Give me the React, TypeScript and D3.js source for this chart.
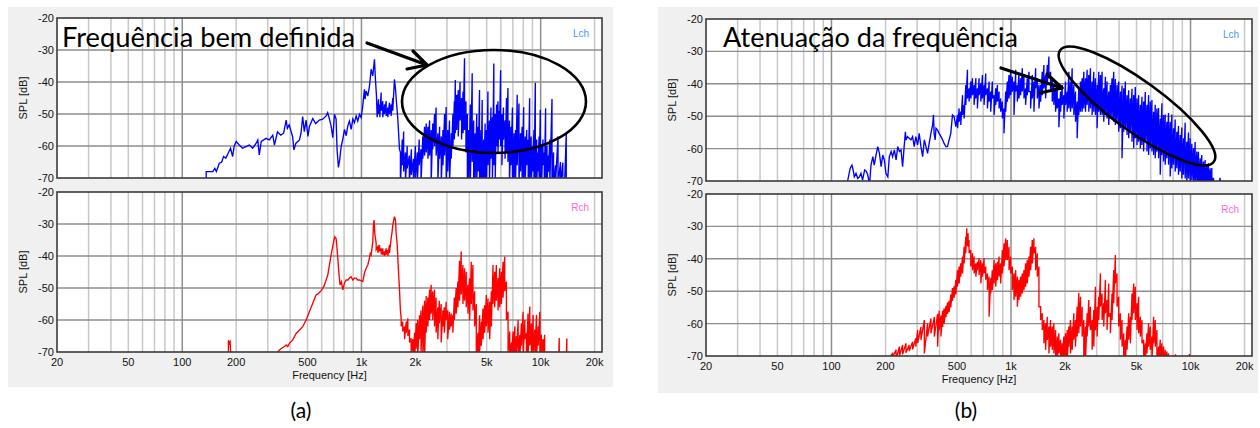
import React from "react";
import * as d3 from "d3";

// Each sample: [frequency Hz, level dB] or [frequency Hz, peak dB, floor dB]
// (peak/floor pairs are drawn as a vertical stroke, like an analyser's min/max trace)
type Sample = number[];

const lchA: Sample[] = [
  [136, -72], [136, -68], [148, -68], [152, -67], [155, -68], [161, -65.4], [166, -65], [170, -63.3], [175, -63.8],
  [182, -61.8], [186, -60.7], [191, -63.3], [195, -60], [200, -58.6], [208, -59.7], [217, -60.7], [227, -60.2],
  [237, -59.7], [247, -60.7], [258, -59.2], [264, -58.1], [269, -62.8], [276, -58.6], [294, -57.6], [306, -58.1],
  [320, -56.6], [327, -59.7], [340, -55.6], [355, -56.6], [368, -56], [380, -51.9], [386, -54.5], [395, -53.4],
  [413, -57.1], [420, -61.2], [430, -59.2], [451, -58.1], [460, -56], [470, -50.8], [480, -55.5], [491, -51.9],
  [503, -57], [512, -54], [535, -51.4], [555, -53], [582, -51.9], [608, -51.6], [635, -50.6], [648, -49.6],
  [663, -51.6], [677, -53.7], [692, -57.4], [707, -50.1], [722, -51.6], [731, -61], [744, -66.7], [757, -64.1],
  [771, -60], [787, -57.9], [804, -54.8], [822, -56.8], [839, -53.7], [857, -52.2], [876, -54.8], [895, -51.6],
  [914, -52.7], [934, -50.6], [954, -52.2], [975, -50.1], [996, -51.1], [1017, -47.5], [1039, -42.3], [1048, -45.4],
  [1062, -42.8], [1085, -44.4], [1109, -41.2], [1133, -36], [1157, -38.1], [1182, -32.9], [1197, -39.2], [1213, -44.4],
  [1223, -50.6, -51], [1245, -45.4, -50], [1266, -47, -51], [1288, -43.3, -49], [1315, -46, -51], [1345, -47, -50],
  [1374, -46, -50.6], [1403, -48, -51], [1433, -46.5, -50], [1464, -47, -50.6], [1496, -45, -49], [1528, -39.2],
  [1549, -42.3], [1569, -46.4], [1596, -51.6], [1630, -61],
  [1650, -62, -72], [1690, -58, -66], [1720, -55.5, -68], [1760, -62, -72], [1800, -60, -67], [1850, -63, -72],
  [1900, -61, -69], [1950, -64, -72], [2000, -60, -70], [2050, -62, -72], [2100, -58, -66], [2150, -61, -72],
  [2200, -57, -64], [2250, -54, -63], [2300, -53, -62], [2350, -54, -64], [2400, -52, -63], [2450, -55, -72],
  [2500, -53, -61], [2560, -50, -60], [2610, -48, -63], [2670, -56, -72], [2730, -54, -64], [2790, -57, -72],
  [2850, -55, -66], [2910, -50, -63], [2970, -47.8, -72], [3030, -55, -68], [3100, -52, -72], [3170, -56, -64],
  [3240, -50, -60], [3300, -46, -58], [3340, -39.4, -56], [3400, -44, -55], [3470, -42.5, -57], [3550, -40, -52],
  [3620, -45, -58], [3690, -43, -56], [3760, -32.6, -55], [3830, -46, -62], [3900, -50, -72], [3970, -55, -70],
  [4050, -47, -72], [4150, -37.3, -65], [4230, -52, -72], [4310, -56, -70], [4400, -50, -72], [4480, -54, -68],
  [4560, -42.5, -72], [4650, -55, -70], [4720, -45.6, -72], [4810, -58, -72], [4900, -53, -70], [4990, -55, -72],
  [5080, -43, -66], [5180, -52, -72], [5280, -48, -64], [5380, -51, -72], [5480, -34.2, -66], [5580, -50, -70],
  [5680, -47, -60], [5780, -46, -62], [5880, -49, -58], [5980, -36.3, -60], [6080, -50, -66], [6200, -48, -58],
  [6330, -52, -64], [6450, -45, -62], [6570, -41.9, -65], [6700, -52, -72], [6830, -54, -66], [6960, -48, -72],
  [7100, -56, -70], [7240, -55, -72], [7400, -44, -66], [7570, -46.7, -72], [7720, -56, -68], [7880, -54, -72],
  [8040, -47.9, -70], [8200, -57, -72], [8360, -55, -66], [8520, -58, -72], [8680, -45.1, -70], [8850, -57, -72],
  [9020, -60, -68], [9180, -55, -72], [9340, -40.2, -70], [9500, -58, -72], [9650, -62, -68], [9800, -57, -72],
  [9960, -48.7, -70], [10130, -60, -72], [10300, -58, -66], [10480, -62, -72], [10660, -48.2, -70], [10850, -60, -72],
  [11050, -63, -68], [11250, -58, -72], [11570, -45.3, -72], [11800, -62, -72], [12100, -66, -72], [12500, -57, -72],
  [12900, -65, -72], [13300, -65.2, -72], [13600, -72], [13900, -56, -72], [14000, -72],
];

const rchA: Sample[] = [
  [181, -72], [181, -66.3], [183, -67.3], [185, -66.8], [187, -72],
  [341, -72], [341, -69.9], [356, -68.9], [372, -68.3], [380, -67.8], [388, -68.3], [396, -67.3], [413, -66.3],
  [432, -64.2], [451, -63.1], [470, -62.1], [491, -60], [512, -57.4], [535, -54.8], [558, -52.2], [570, -51.9],
  [583, -51.4], [595, -50.9], [608, -50.1], [621, -49.1], [635, -47.5], [649, -45.9], [663, -42.8], [677, -39.7],
  [691, -37.1], [700, -35.5], [710, -34], [722, -34.5], [728, -36.6], [738, -40.7], [747, -44.9], [760, -49.1],
  [773, -48], [787, -50.6], [804, -48.5], [821, -47.5], [840, -47.5], [857, -46.9], [876, -46.5], [895, -47.5],
  [915, -46.9], [934, -46.9], [955, -47.5], [975, -47.5], [1017, -48], [1039, -45.4], [1062, -43.8], [1085, -42.8],
  [1108, -40.7], [1120, -39.2], [1133, -39.7], [1157, -35.5], [1167, -30.3], [1177, -28.75], [1187, -32.9],
  [1208, -36, -38], [1234, -37.1, -39], [1261, -36.6, -38.6], [1288, -37.6, -39.5], [1316, -37.6, -39.7],
  [1345, -38.6, -40], [1374, -37.6, -39.5], [1403, -38.1, -40], [1433, -36.6, -39], [1465, -34.5], [1483, -32.4],
  [1496, -30.3], [1528, -27.7], [1549, -28.75], [1562, -32.9], [1582, -36], [1610, -44.9], [1631, -50.6], [1650, -57],
  [1666, -59.5, -62], [1700, -60.5, -63.6], [1740, -62, -66], [1778, -60.5, -64], [1816, -59.5, -65], [1855, -63, -67],
  [1894, -65.7, -70], [1936, -66, -72], [1980, -64, -72], [2020, -61, -69], [2060, -60, -72], [2109, -58.5, -66],
  [2150, -57, -70], [2201, -55.5, -72], [2250, -54, -72], [2298, -52.5, -64], [2348, -53, -62], [2400, -50.5, -60],
  [2450, -49, -58], [2500, -51, -60], [2557, -50.5, -62], [2610, -53, -64], [2668, -56, -66], [2720, -54, -61],
  [2785, -55, -67], [2850, -57, -62], [2900, -56, -64], [2970, -54.3, -60], [3030, -57, -66], [3101, -57.4, -63],
  [3170, -58, -62], [3237, -58.5, -64], [3300, -53, -60], [3378, -50, -58], [3452, -48, -56], [3527, -41.5, -54],
  [3604, -38.6, -52], [3682, -42.8, -55], [3762, -43.8, -54], [3844, -44.9, -56], [3928, -49, -58], [4013, -47, -60],
  [4101, -41.8, -55], [4190, -42.8, -57], [4281, -51, -62], [4374, -55, -72], [4469, -64, -72], [4566, -58.5, -70],
  [4665, -60.5, -68], [4767, -56.4, -66], [4870, -55.4, -64], [4976, -52.2, -62], [5084, -53.3, -64], [5195, -54.3, -66],
  [5308, -51, -62], [5423, -42.8, -55], [5541, -44.9, -56], [5661, -42.8, -54], [5784, -46.9, -57], [5910, -43.8, -56],
  [6038, -44.9, -55], [6169, -41.8, -53], [6304, -40.2, -51], [6440, -48, -60], [6580, -57.4, -70], [6723, -63.6, -72],
  [6869, -67, -72], [7019, -63.6, -72], [7180, -62, -72], [7327, -65, -70], [7490, -60, -72], [7649, -64.7, -72],
  [7810, -61, -68], [7984, -57.4, -72], [8157, -60, -66], [8334, -64, -72], [8500, -58, -72], [8700, -55.8, -68],
  [8880, -61, -72], [9082, -58.4, -70], [9280, -63, -72], [9480, -58.4, -72], [9690, -62, -68], [9896, -57.4, -72],
  [10087, -64.6, -70], [10300, -66, -72], [10530, -64.6, -72], [10760, -72], [12600, -72], [12700, -65.6, -72],
  [12900, -72], [13900, -72], [14000, -65.8, -72], [14200, -72],
];

const lchB: Sample[] = [
  [123, -72], [123, -70], [127, -66.1], [130, -65.1], [132, -66.6], [134, -68.7], [137, -67.6], [140, -69.2],
  [143, -68.7], [146, -67.6], [149, -69.7], [153, -66.6], [156, -67], [159, -68], [163, -71], [166, -65.1],
  [170, -62.5], [173, -65.1], [177, -62], [181, -59.4], [185, -61.5], [189, -65.6], [193, -62], [197, -63.5],
  [201, -67.6], [206, -68.7], [210, -62.5], [215, -60.9], [219, -62.5], [224, -60.4], [229, -63.5], [234, -59.4],
  [239, -60.9], [244, -60.4], [249, -65.6], [254, -59.4], [258, -54.8], [260, -57.3], [265, -56.3], [271, -56.8],
  [277, -57.3], [283, -56.3], [289, -59.4], [295, -56.3], [302, -58.9], [308, -55.3], [315, -59.4], [322, -62.5],
  [329, -57.3], [336, -59.4], [343, -61.5], [350, -58.4], [358, -55.3], [366, -52.7], [370, -49.6], [373, -55.3],
  [378, -57.3], [382, -53.7], [390, -54.3], [398, -55.3], [407, -56.3], [416, -57.3], [424, -58.4], [434, -59.4],
  [443, -59.4], [452, -57.3], [462, -55.3], [472, -49.6], [482, -50.1], [493, -53.2],
  [504, -49.6, -53.7], [514, -47.6, -51.7], [525, -48.6, -52.7], [537, -43.5, -49.6], [548, -46.5, -50.7],
  [560, -40.4, -46.5], [572, -35.7, -44.5], [584, -41.4, -45.5], [597, -39.3, -44.5], [610, -38.3, -43.5],
  [623, -40.4, -46.5], [637, -38.3, -44.5], [650, -41.4, -47.6], [664, -38.3, -43.5], [679, -39.8, -45.5],
  [693, -37.3, -44.5], [708, -40.4, -46.5], [723, -36.8, -43.5], [739, -41.4, -47.6], [755, -39.3, -45.5],
  [771, -42.4, -48.6], [787, -39.3, -44.5], [805, -43.5, -49.6], [822, -41.4, -46.5], [840, -40.4, -45.5],
  [858, -42.4, -47.6], [876, -44.5, -48.6], [895, -45.5, -50.7], [914, -47.6, -55.3], [934, -42.4, -48.6],
  [954, -39.3, -45.5], [975, -37.3, -44.5], [996, -36.3, -43.5], [1017, -37.8, -42.4], [1039, -39.3, -49.6],
  [1062, -35.7, -42.4], [1085, -40.4, -45.5], [1107, -36.8, -44.5], [1131, -38.3, -43.5], [1156, -35.2, -42.4],
  [1181, -37.3, -44.5], [1206, -41.4, -46.5], [1232, -38.3, -43.5], [1259, -36.3, -42.4], [1286, -42.4, -47.6],
  [1314, -37.3, -44.5], [1342, -39.3, -48.6], [1371, -35.2, -41.4], [1401, -38.3, -44.5], [1431, -40.4, -47.6],
  [1462, -40.4, -45.5], [1493, -36.3, -43.5], [1525, -34.2, -41.4], [1558, -37.3, -44.5], [1592, -34.2, -40.4],
  [1626, -31.6, -38.3], [1661, -36.3, -42.4], [1697, -38.3, -45.5], [1733, -40.4, -46.5], [1771, -41.4, -48.6],
  [1809, -40.4, -47.6], [1848, -44.5, -53.4], [1888, -42.4, -48.6], [1928, -40.4, -46.5], [1970, -43.5, -50.7],
  [2012, -39.3, -46.5], [2056, -42.4, -48.6], [2100, -36.3, -47.6], [2145, -39.3, -48.6], [2191, -35.2, -47.6],
  [2239, -40.4, -49.6], [2287, -42.4, -51.7], [2336, -45.5, -56.8], [2386, -41.4, -49.6], [2438, -39.3, -48.6],
  [2490, -38.3, -48.6], [2544, -36.3, -47.6], [2599, -38.3, -48.6], [2655, -35.7, -46.5], [2712, -37.3, -48.6],
  [2770, -35.2, -47.6], [2830, -39.3, -49.6], [2891, -36.3, -48.6], [2953, -38.3, -49.6], [3017, -40.4, -53.7],
  [3082, -36.3, -48.6], [3148, -37.3, -49.6], [3216, -36.3, -49.6], [3285, -41.4, -51.7], [3356, -37.8, -49.6],
  [3428, -39.3, -50.7], [3502, -42.4, -52.7], [3578, -40.4, -50.7], [3654, -38.3, -50.7], [3733, -36.3, -51.7],
  [3813, -38.5, -52.7], [3896, -40.4, -51.7], [3981, -39.3, -54.8], [4066, -42.4, -53.7], [4154, -40.5, -63],
  [4244, -41.4, -54.8], [4335, -39.3, -53.7], [4429, -43.5, -55.8], [4524, -42, -56.8], [4621, -44.5, -54.8],
  [4720, -41.5, -57.9], [4822, -43.5, -59.9], [4926, -41, -56.8], [5032, -44.5, -58.9], [5140, -43.5, -57.9],
  [5251, -46.5, -59.9], [5364, -44, -58.9], [5479, -45.5, -60.9], [5597, -42.5, -57.9], [5718, -46.5, -60.9],
  [5841, -43.5, -62], [5967, -45.5, -59.9], [6095, -45, -60.9], [6227, -48.6, -62], [6360, -46.5, -63],
  [6498, -47.6, -61], [6637, -47.5, -63], [6781, -50.7, -68.1], [6926, -46, -62], [7075, -49.6, -64],
  [7227, -49.5, -65], [7383, -51.7, -63], [7542, -49, -65], [7705, -51.7, -68.6], [7870, -49.5, -66.1],
  [8040, -53.7, -65], [8213, -51, -67.1], [8390, -54.8, -66.1], [8570, -53, -68.1], [8755, -55.8, -67.1],
  [8943, -53.5, -69.2], [9136, -56.8, -68.1], [9333, -52, -69.2], [9534, -57.9, -70.5], [9739, -55, -69.2],
  [9949, -56.8, -70.5], [10170, -58.5, -69.7], [10390, -59.9, -71], [10610, -58, -70.5], [10840, -60.9, -71],
  [11070, -61, -72], [11310, -63, -72], [11550, -62, -72], [11800, -64, -72], [12060, -63.5, -72], [12320, -65, -72],
  [12590, -64.5, -72], [12860, -66.1, -72], [13140, -66, -72], [13420, -69, -72], [13700, -72], [14400, -72],
  [14600, -69], [14800, -72],
];

const rchB: Sample[] = [
  [215, -72], [215, -69.7], [219, -69.2, -70.5], [229, -68.1, -71], [239, -67.1, -70], [249, -66.6, -69.5],
  [260, -66.1, -69], [271, -66.6, -68.5], [283, -65.6, -68], [295, -64.5, -67.1], [302, -62, -66], [315, -61, -65],
  [329, -58.9, -69.2], [343, -59.9, -64], [358, -58.4, -63], [374, -58, -64], [390, -57, -67.1], [398, -56, -62],
  [407, -57.5, -64], [416, -56, -61], [424, -55.3, -60], [434, -54.5, -58], [443, -53.5, -57], [452, -53, -56.5],
  [462, -51, -55], [472, -49, -53], [482, -48.5, -52], [493, -46.5, -51],
  [503, -43.5, -48.6], [514, -42.4, -47.6], [525, -41.4, -45.5], [537, -39.3, -44.5], [548, -36.3, -41.4],
  [560, -33.2, -38.3], [567, -30.6, -36], [577, -32.1, -36.3], [584, -34.2, -38.3], [597, -37.3, -42.4],
  [610, -38.3, -43.5], [623, -39.3, -44.5], [637, -41.4, -45.5], [650, -40.9, -43.5], [664, -39.8, -45],
  [679, -40.4, -47.6], [693, -41.4, -45.5], [708, -39.8, -44.5], [723, -42.4, -46.5], [739, -44.5, -49.6],
  [755, -45.5, -57.9], [771, -46, -50.7], [787, -43.5, -49.6], [805, -40.4, -47.6], [822, -41.4, -48.6],
  [840, -40.9, -46.5], [858, -39.3, -45.5], [876, -41.4, -47.6], [895, -37.3, -44.5], [914, -35.2, -42.4],
  [934, -33.7, -40.4], [954, -34.2, -40.4], [975, -36.3, -43.5], [996, -39.3, -44.5], [1017, -42.4, -49.6],
  [1039, -44.5, -52.7], [1062, -43.5, -51.7], [1085, -45.5, -54.8], [1107, -46.5, -52.7], [1131, -45.5, -51.7],
  [1156, -44.5, -50.7], [1181, -43.5, -49.6], [1206, -41.4, -48.6], [1232, -40.4, -47.6], [1259, -39.3, -45.5],
  [1286, -36.3, -43.5], [1314, -34.2, -41.4], [1342, -33.7, -38.3], [1371, -36.3, -43.5], [1401, -38.3, -45.5],
  [1431, -42.4, -54.8], [1462, -54.8, -58.9], [1493, -56.8, -62], [1525, -58.9, -66.1], [1558, -59.9, -68.1],
  [1592, -57.9, -65], [1626, -60.9, -69.2], [1661, -58.9, -67.1], [1697, -60.9, -68.1], [1733, -59.9, -69.2],
  [1771, -62, -72], [1809, -64, -72], [1848, -63, -69.2], [1888, -65, -72], [1928, -66.1, -72], [1970, -64, -72],
  [2012, -63, -72], [2056, -62, -72], [2100, -60.9, -67.1], [2145, -58.9, -69.2], [2191, -60.9, -68.1],
  [2239, -56.8, -65], [2287, -58.9, -67.1], [2336, -54.8, -64], [2386, -50.5, -63], [2438, -51.7, -60.9],
  [2490, -54.8, -64], [2544, -58.9, -72], [2599, -60.9, -72], [2655, -56.8, -64], [2712, -52.7, -60.9],
  [2770, -54.8, -62], [2830, -58.9, -68.1], [2891, -55.8, -67.1], [2953, -48.6, -62], [3017, -54.8, -64],
  [3082, -51.7, -58.9], [3148, -44.5, -54.8], [3216, -50.7, -58.9], [3285, -53.7, -60.9], [3356, -46.5, -56.8],
  [3428, -52.7, -62], [3502, -47.6, -57.9], [3578, -56.8, -63], [3654, -50.7, -58.9], [3733, -43.5, -53.7],
  [3813, -38.8, -47.6], [3896, -44.5, -54.8], [3981, -51.7, -60.9], [4066, -56.8, -65], [4154, -58.9, -67.1],
  [4244, -63, -72], [4335, -65, -72], [4429, -60.9, -68.1], [4524, -56.8, -65], [4621, -57.9, -66.1],
  [4720, -50.7, -58.9], [4822, -47.6, -56.8], [4926, -48.6, -58.9], [5032, -53.7, -62], [5140, -51.7, -63],
  [5251, -57.9, -64], [5364, -58.9, -66.1], [5479, -65, -72], [5597, -66.1, -72], [5718, -63, -69.2],
  [5841, -59.9, -67.1], [5967, -60.9, -68.1], [6095, -64, -72], [6227, -57.9, -66.1], [6360, -58.9, -67.1],
  [6498, -62, -72], [6637, -67.1, -72], [6781, -65, -72], [6926, -66.1, -72], [7075, -67.1, -72], [7227, -68.1, -72],
  [7383, -68.6, -72], [7542, -69.2, -72], [7705, -72], [8200, -72], [8250, -69.5], [8300, -72], [9800, -72],
  [9850, -69.4], [9900, -72],
];

// Axis and grid definitions
const FREQ_DOMAIN = [20, 22000];
const SPL_DOMAIN = [-70, -20];
const freqTickValues = [20, 50, 100, 200, 500, 1000, 2000, 5000, 10000, 20000];
const freqTickLabels = ["20", "50", "100", "200", "500", "1k", "2k", "5k", "10k", "20k"];
const minorFreqGrid = [30, 40, 50, 60, 70, 80, 90, 200, 300, 400, 500, 600, 700, 800, 900,
  2000, 3000, 4000, 5000, 6000, 7000, 8000, 9000, 20000];
const decadeFreqGrid = [100, 1000, 10000];
const splTicks = [-20, -30, -40, -50, -60, -70];
const splGrid = [-30, -40, -50, -60];

const TICK_FONT = "'Liberation Sans', Arial, sans-serif";
const NOTE_FONT = "Lato, 'Open Sans', sans-serif";

type Box = { x: number; y: number; w: number; h: number };

function expand(samples: Sample[]): [number, number][] {
  const pts: [number, number][] = [];
  for (const s of samples) {
    pts.push([s[0], s[1]]);
    if (s.length > 2) pts.push([s[0], s[2]]);
  }
  return pts;
}

function Spectrum(props: {
  id: string; box: Box; samples: Sample[]; stroke: string;
  channel: string; channelColor: string; withFreqAxis: boolean;
}) {
  const { id, box, samples, stroke, channel, channelColor, withFreqAxis } = props;
  const x = d3.scaleLog().domain(FREQ_DOMAIN).range([box.x, box.x + box.w]);
  const y = d3.scaleLinear().domain(SPL_DOMAIN).range([box.y + box.h, box.y]);
  const line = d3.line<[number, number]>().x((d) => x(d[0])).y((d) => y(d[1]));
  const bottom = box.y + box.h;
  return (
    <g>
      <defs>
        <clipPath id={id}>
          <rect x={box.x} y={box.y} width={box.w} height={box.h} />
        </clipPath>
      </defs>
      <rect x={box.x} y={box.y} width={box.w} height={box.h} fill="#ffffff" />
      {minorFreqGrid.map((f) => (
        <line key={"m" + f} x1={x(f)} x2={x(f)} y1={box.y} y2={bottom} stroke="#c8c8c8" strokeWidth={1.5} />
      ))}
      {splGrid.map((v) => (
        <line key={"h" + v} x1={box.x} x2={box.x + box.w} y1={y(v)} y2={y(v)} stroke="#8e8e8e" strokeWidth={1.4} />
      ))}
      {decadeFreqGrid.map((f) => (
        <line key={"d" + f} x1={x(f)} x2={x(f)} y1={box.y} y2={bottom} stroke="#8e8e8e" strokeWidth={1.5} />
      ))}
      <path d={line(expand(samples)) || ""} clipPath={`url(#${id})`} fill="none" stroke={stroke}
        strokeWidth={1.35} strokeLinejoin="miter" />
      <rect x={box.x} y={box.y} width={box.w} height={box.h} fill="none" stroke="#3a3a3a" strokeWidth={1.6} />
      {splTicks.map((v) => (
        <text key={"t" + v} x={box.x - 3} y={y(v)} textAnchor="end" dominantBaseline="central"
          fontFamily={TICK_FONT} fontSize={11} fill="#111">{v}</text>
      ))}
      <text transform={`translate(${box.x - 34},${box.y + box.h / 2}) rotate(-90)`} textAnchor="middle"
        dominantBaseline="central" fontFamily={TICK_FONT} fontSize={11} fill="#111">SPL [dB]</text>
      <text x={box.x + box.w - 13} y={box.y + 15} textAnchor="end" dominantBaseline="central"
        fontFamily={TICK_FONT} fontSize={10} fill={channelColor}>{channel}</text>
      {withFreqAxis && (
        <g>
          {freqTickValues.map((f, i) => (
            <text key={"f" + f} x={x(f)} y={bottom + 10} textAnchor="middle" dominantBaseline="central"
              fontFamily={TICK_FONT} fontSize={11} fill="#111">{freqTickLabels[i]}</text>
          ))}
          <text x={box.x + box.w / 2} y={bottom + 23} textAnchor="middle" dominantBaseline="central"
            fontFamily={TICK_FONT} fontSize={11} fill="#111">Frequency [Hz]</text>
        </g>
      )}
    </g>
  );
}

function Arrow(props: { shaft: number[]; tip: number[]; armA: number[]; armB: number[] }) {
  const { shaft, tip, armA, armB } = props;
  return (
    <g stroke="#000" strokeWidth={3.2} fill="none" strokeLinecap="round" strokeLinejoin="round">
      <line x1={shaft[0]} y1={shaft[1]} x2={tip[0]} y2={tip[1]} />
      <polyline points={`${armA[0]},${armA[1]} ${tip[0]},${tip[1]} ${armB[0]},${armB[1]}`} />
    </g>
  );
}

export default function App() {
  const boxesA: Box[] = [{ x: 57, y: 18, w: 545, h: 160 }, { x: 57, y: 192, w: 545, h: 160 }];
  const boxesB: Box[] = [{ x: 706, y: 19, w: 546, h: 162 }, { x: 706, y: 194, w: 546, h: 162 }];
  return (
    <svg width={1260} height={428} viewBox="0 0 1260 428"
      style={{ position: "absolute", left: 0, top: 0, background: "#ffffff" }}>
      <rect x={8} y={7} width={605} height={380} fill="#f0f0f0" />
      <rect x={658} y={7} width={600} height={386} fill="#f0f0f0" />

      <Spectrum id="clipALch" box={boxesA[0]} samples={lchA} stroke="#0000ff" channel="Lch"
        channelColor="#3d9cff" withFreqAxis={false} />
      <Spectrum id="clipARch" box={boxesA[1]} samples={rchA} stroke="#ff0000" channel="Rch"
        channelColor="#ff66dd" withFreqAxis={true} />
      <Spectrum id="clipBLch" box={boxesB[0]} samples={lchB} stroke="#0000ff" channel="Lch"
        channelColor="#3d9cff" withFreqAxis={false} />
      <Spectrum id="clipBRch" box={boxesB[1]} samples={rchB} stroke="#ff0000" channel="Rch"
        channelColor="#ff66dd" withFreqAxis={true} />

      <text x={62} y={47} fontFamily={NOTE_FONT} fontSize={26} fill="#000" textLength={293}
        lengthAdjust="spacingAndGlyphs">Frequência bem definida</text>
      <Arrow shaft={[367, 43]} tip={[427, 65]} armA={[413, 51]} armB={[407, 69]} />
      <ellipse cx={494} cy={101.5} rx={92} ry={51.5} fill="none" stroke="#000" strokeWidth={2.6} />

      <text x={723} y={47} fontFamily={NOTE_FONT} fontSize={26} fill="#000" textLength={295}
        lengthAdjust="spacingAndGlyphs">Atenuação da frequência</text>
      <Arrow shaft={[1001, 68]} tip={[1062, 88]} armA={[1047, 74]} armB={[1040, 93]} />
      <ellipse cx={1137} cy={106} rx={95} ry={25} transform="rotate(36 1137 106)" fill="none"
        stroke="#000" strokeWidth={2.6} />

      <text x={301} y={418} textAnchor="middle" fontFamily={NOTE_FONT} fontSize={21} fill="#000">(a)</text>
      <text x={966} y={418} textAnchor="middle" fontFamily={NOTE_FONT} fontSize={21} fill="#000">(b)</text>
    </svg>
  );
}
